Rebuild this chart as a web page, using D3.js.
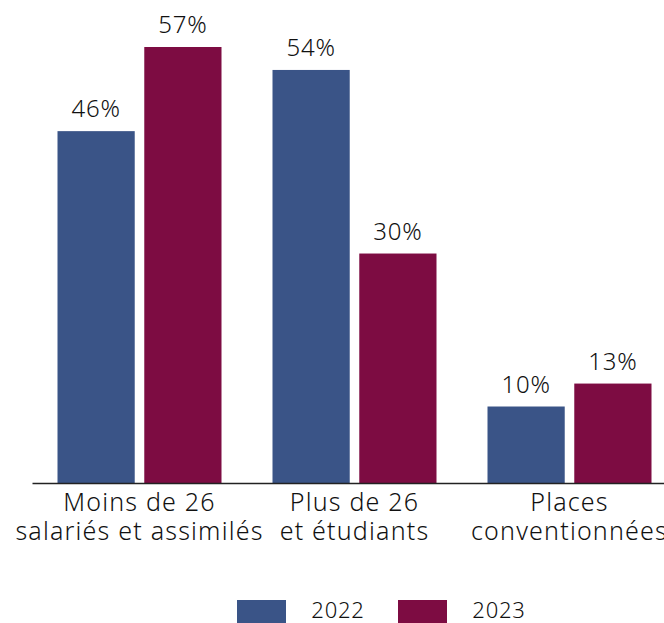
<!DOCTYPE html>
<html>
<head>
<meta charset="utf-8">
<script src="https://cdn.jsdelivr.net/npm/d3@7"></script>
<style>
  body { margin: 0; background: #fff; }
  text { font-family: "Noto Sans", sans-serif; font-weight: 300; fill: #111; }
</style>
</head>
<body>
<svg id="chart" width="664" height="623"></svg>
<script>
const categories = [
    ['Moins de 26', 'salariés et assimilés'],
    ['Plus de 26', 'et étudiants'],
    ['Places', 'conventionnées']
];
const years = ['2022', '2023'];
const values2022 = [46, 54, 10];
const values2023 = [57, 30, 13];
const colors = ['#3a5487', '#7d0c42'];

const svg = d3.select('#chart');
const baseY = 483;

const x0 = d3.scaleBand()
    .domain(d3.range(categories.length))
    .range([32, 677])
    .paddingInner(0)
    .paddingOuter(0);

const x1 = d3.scaleBand()
    .domain(years)
    .range([x0.bandwidth() / 2 - 82, x0.bandwidth() / 2 + 82])
    .paddingInner(0.11);

const y = d3.scaleLinear().domain([0, 57]).range([baseY, 47]);

const rows = categories.map(function (c, i) {
    return { i: i, vals: [values2022[i], values2023[i]] };
});

const groups = svg.selectAll('.group')
    .data(rows)
    .enter()
    .append('g')
    .attr('transform', function (d) { return 'translate(' + x0(d.i) + ',0)'; });

groups.selectAll('rect')
    .data(function (d) { return d.vals.map(function (v, k) { return { year: years[k], v: v, k: k }; }); })
    .enter()
    .append('rect')
    .attr('x', function (d) { return x1(d.year); })
    .attr('width', x1.bandwidth())
    .attr('y', function (d) { return y(d.v); })
    .attr('height', function (d) { return baseY - y(d.v); })
    .style('fill', function (d) { return colors[d.k]; });

groups.selectAll('.val')
    .data(function (d) { return d.vals.map(function (v, k) { return { year: years[k], v: v }; }); })
    .enter()
    .append('text')
    .attr('x', function (d) { return x1(d.year) + x1.bandwidth() / 2; })
    .attr('y', function (d) { return y(d.v) - 14; })
    .attr('text-anchor', 'middle')
    .style('font-size', '24px')
    .style('letter-spacing', '0.8px')
    .text(function (d) { return d.v + '%'; });

// axis
const axis = svg.append('g').attr('transform', 'translate(0,' + baseY + ')')
    .call(d3.axisBottom(x0).tickSize(0).tickFormat(''));
axis.select('.domain').attr('stroke', '#222').attr('stroke-width', 1.5);

// category labels, one text per line
groups.selectAll('.cat')
    .data(function (d) { return categories[d.i]; })
    .enter()
    .append('text')
    .attr('x', x0.bandwidth() / 2)
    .attr('y', function (d, i) { return 511 + i * 29; })
    .attr('text-anchor', 'middle')
    .style('font-size', '25px')
    .style('letter-spacing', '1.2px')
    .text(function (d) { return d; });

// legend
const legendX = [237, 398];
const legend = svg.selectAll('.legend')
    .data(years)
    .enter()
    .append('g')
    .attr('transform', function (d, i) { return 'translate(' + legendX[i] + ',600)'; });

legend.append('rect')
    .attr('width', 49)
    .attr('height', 24)
    .style('fill', function (d, i) { return colors[i]; });

legend.append('text')
    .attr('x', 101)
    .attr('y', 18)
    .attr('text-anchor', 'middle')
    .style('font-size', '22px')
    .style('letter-spacing', '0.8px')
    .text(function (d) { return d; });
</script>
</body>
</html>
